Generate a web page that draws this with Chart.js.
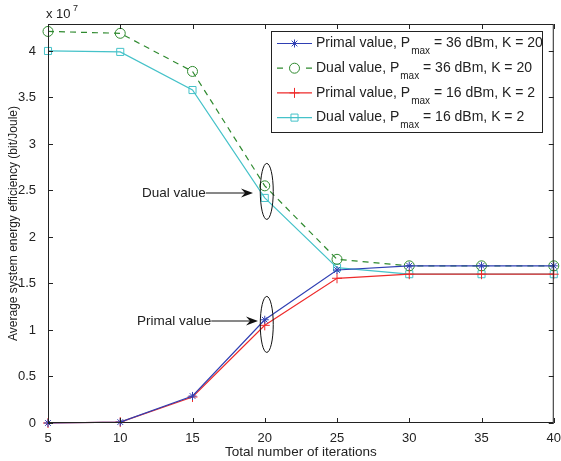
<!DOCTYPE html>
<html>
<head>
<meta charset="utf-8">
<script src="https://cdn.jsdelivr.net/npm/chart.js@4.4.0/dist/chart.umd.min.js"></script>
<style>
  html, body { margin: 0; padding: 0; background: #fff; }
  #wrap { width: 561px; height: 461px; }
</style>
</head>
<body>
<div id="wrap"><canvas id="eeChart" width="561" height="461"></canvas></div>
<script>
// iterations on the x axis
const iterations = [5, 10, 15, 20, 25, 30, 35, 40];
// energy efficiency, in units of 1e7 bit/Joule
const primal36 = [0.0, 0.01, 0.29, 1.11, 1.645, 1.69, 1.69, 1.69];
const dual36 = [4.21, 4.19, 3.78, 2.55, 1.76, 1.69, 1.69, 1.69];
const primal16 = [0.0, 0.01, 0.28, 1.05, 1.556, 1.60, 1.60, 1.60];
const dual16 = [4.0, 3.99, 3.58, 2.42, 1.67, 1.60, 1.60, 1.60];
const yTicks = [0, 0.5, 1, 1.5, 2, 2.5, 3, 3.5, 4];
const yTickLabels = ['0', '0.5', '1', '1.5', '2', '2.5', '3', '3.5', '4'];
const xTicks = [5, 10, 15, 20, 25, 30, 35, 40];

const FONT = 'Liberation Sans, Arial, Helvetica, sans-serif';
const BLUE = '#2f3fb3';
const GREEN = '#2f8a2f';
const RED = '#ee2a2a';
const CYAN = '#45c2c9';

const legendRows = [
  { name: 'Primal value, P', rest: ' = 36 dBm, K = 20', color: BLUE, style: 'star', dash: [] },
  { name: 'Dual value, P', rest: ' = 36 dBm, K = 20', color: GREEN, style: 'circle', dash: [6, 5] },
  { name: 'Primal value, P', rest: ' = 16 dBm, K = 2', color: RED, style: 'cross', dash: [] },
  { name: 'Dual value, P', rest: ' = 16 dBm, K = 2', color: CYAN, style: 'rect', dash: [] }
];

function ds(label, data, color, style, dash, order) {
  return {
    label: label,
    data: data,
    borderColor: color,
    backgroundColor: 'rgba(0,0,0,0)',
    borderWidth: 1.2,
    borderDash: dash,
    pointStyle: style,
    pointRadius: style === 'star' ? 4 : 5,
    pointBorderColor: color,
    pointBackgroundColor: 'rgba(0,0,0,0)',
    pointBorderWidth: 1,
    tension: 0,
    clip: false,
    order: order
  };
}

const framePlugin = {
  id: 'frame',
  afterDraw(chart) {
    const ctx = chart.ctx;
    const a = chart.chartArea;
    const xs = chart.scales.x, ys = chart.scales.y;
    ctx.save();
    ctx.strokeStyle = '#222';
    ctx.lineWidth = 1;
    ctx.strokeRect(a.left + 0.5, a.top + 0.5, a.right - a.left - 1, a.bottom - a.top - 1);
    xTicks.forEach(v => {
      const px = Math.round(xs.getPixelForValue(v)) + 0.5;
      ctx.beginPath();
      ctx.moveTo(px, a.bottom); ctx.lineTo(px, a.bottom - 5);
      ctx.moveTo(px, a.top); ctx.lineTo(px, a.top + 5);
      ctx.stroke();
    });
    yTicks.forEach(v => {
      const py = Math.round(ys.getPixelForValue(v)) + 0.5;
      ctx.beginPath();
      ctx.moveTo(a.left, py); ctx.lineTo(a.left + 5, py);
      ctx.moveTo(a.right, py); ctx.lineTo(a.right - 5, py);
      ctx.stroke();
    });

    // exponent label
    ctx.fillStyle = '#222';
    ctx.font = '13px ' + FONT;
    ctx.textBaseline = 'alphabetic';
    ctx.textAlign = 'left';
    ctx.fillText('x 10', a.left - 2, a.top - 6);
    ctx.font = '9px ' + FONT;
    ctx.fillText('7', a.left + 25, a.top - 13);

    // annotations: ellipses and arrows at iteration 20
    const ex = xs.getPixelForValue(20) + 2;
    const marks = [
      { text: 'Dual value', yv: 2.49, ty: 193, tx: 142, tip: 253 },
      { text: 'Primal value', yv: 1.06, ty: 321, tx: 137, tip: 258 }
    ];
    marks.forEach(m => {
      const ey = ys.getPixelForValue(m.yv);
      ctx.strokeStyle = '#111';
      ctx.lineWidth = 1;
      ctx.beginPath();
      ctx.ellipse(ex, ey, 6.5, 28, 0, 0, Math.PI * 2);
      ctx.stroke();
      ctx.font = '13.5px ' + FONT;
      ctx.fillStyle = '#222';
      ctx.textBaseline = 'middle';
      ctx.textAlign = 'left';
      ctx.fillText(m.text, m.tx, m.ty);
      const w = ctx.measureText(m.text).width;
      ctx.beginPath();
      ctx.moveTo(m.tx + w, m.ty); ctx.lineTo(m.tip - 6, m.ty);
      ctx.stroke();
      ctx.fillStyle = '#111';
      ctx.beginPath();
      ctx.moveTo(m.tip, m.ty);
      ctx.lineTo(m.tip - 12, m.ty - 4.5);
      ctx.lineTo(m.tip - 8, m.ty);
      ctx.lineTo(m.tip - 12, m.ty + 4.5);
      ctx.closePath();
      ctx.fill();
    });

    // legend box
    const lx = 271, ly = 31, lw = 271, lh = 101;
    ctx.fillStyle = '#fff';
    ctx.fillRect(lx, ly, lw, lh);
    ctx.strokeStyle = '#222';
    ctx.lineWidth = 1;
    ctx.strokeRect(lx + 0.5, ly + 0.5, lw, lh);
    legendRows.forEach((r, i) => {
      const ry = 43.5 + i * 24.7;
      ctx.strokeStyle = r.color;
      ctx.lineWidth = 1.2;
      ctx.setLineDash(r.dash);
      ctx.beginPath();
      if (r.dash.length) {
        ctx.moveTo(277, ry); ctx.lineTo(283, ry);
        ctx.moveTo(306, ry); ctx.lineTo(312, ry);
      } else {
        ctx.moveTo(277, ry); ctx.lineTo(312, ry);
      }
      ctx.stroke();
      ctx.setLineDash([]);
      ctx.lineWidth = 1;
      ctx.fillStyle = 'rgba(0,0,0,0)';
      Chart.helpers.drawPoint(ctx, {
        pointStyle: r.style, radius: r.style === 'star' ? 4 : 5, rotation: 0, borderWidth: 1
      }, 294.5, ry);
      ctx.fillStyle = '#222';
      ctx.font = '14px ' + FONT;
      ctx.textAlign = 'left';
      ctx.textBaseline = 'middle';
      ctx.fillText(r.name, 316, ry);
      const w = ctx.measureText(r.name).width;
      ctx.font = '10px ' + FONT;
      ctx.fillText('max', 317 + w, ry + 8);
      const w2 = ctx.measureText('max').width;
      ctx.font = '14px ' + FONT;
      ctx.fillText(r.rest, 317 + w + w2, ry);
    });
    ctx.restore();
  }
};

new Chart(document.getElementById('eeChart').getContext('2d'), {
  type: 'line',
  data: {
    datasets: [
      ds('Primal value, Pmax = 36 dBm, K = 20', iterations.map((x, i) => ({ x: x, y: primal36[i] })), BLUE, 'star', [], 1),
      ds('Dual value, Pmax = 36 dBm, K = 20', iterations.map((x, i) => ({ x: x, y: dual36[i] })), GREEN, 'circle', [6, 5], 3),
      ds('Primal value, Pmax = 16 dBm, K = 2', iterations.map((x, i) => ({ x: x, y: primal16[i] })), RED, 'cross', [], 2),
      ds('Dual value, Pmax = 16 dBm, K = 2', iterations.map((x, i) => ({ x: x, y: dual16[i] })), CYAN, 'rect', [], 4)
    ]
  },
  options: {
    responsive: false,
    animation: false,
    layout: { padding: { top: 24, right: 7, left: 6, bottom: 0 } },
    plugins: { legend: { display: false }, tooltip: { enabled: false } },
    scales: {
      x: {
        type: 'linear',
        min: 5, max: 40,
        afterBuildTicks: s => { s.ticks = xTicks.map(v => ({ value: v })); },
        afterFit: s => { s.height = 38; },
        grid: { display: false },
        border: { display: false },
        ticks: { color: '#222', font: { family: FONT, size: 13 }, padding: 0, maxRotation: 0 },
        title: { display: true, text: 'Total number of iterations', color: '#222', font: { family: FONT, size: 13.5 }, padding: { top: 0, bottom: 1 } }
      },
      y: {
        min: 0, max: 4.29,
        afterBuildTicks: s => { s.ticks = yTicks.map(v => ({ value: v })); },
        afterFit: s => { s.width = 42; },
        grid: { display: false },
        border: { display: false },
        ticks: {
          color: '#222', font: { family: FONT, size: 13 }, padding: 4,
          callback: (v, i) => yTickLabels[i]
        },
        title: { display: true, text: 'Average system energy efficiency (bit/Joule)', color: '#222', font: { family: FONT, size: 12 }, padding: { top: 0, bottom: 0 } }
      }
    }
  },
  plugins: [framePlugin]
});
</script>
</body>
</html>
